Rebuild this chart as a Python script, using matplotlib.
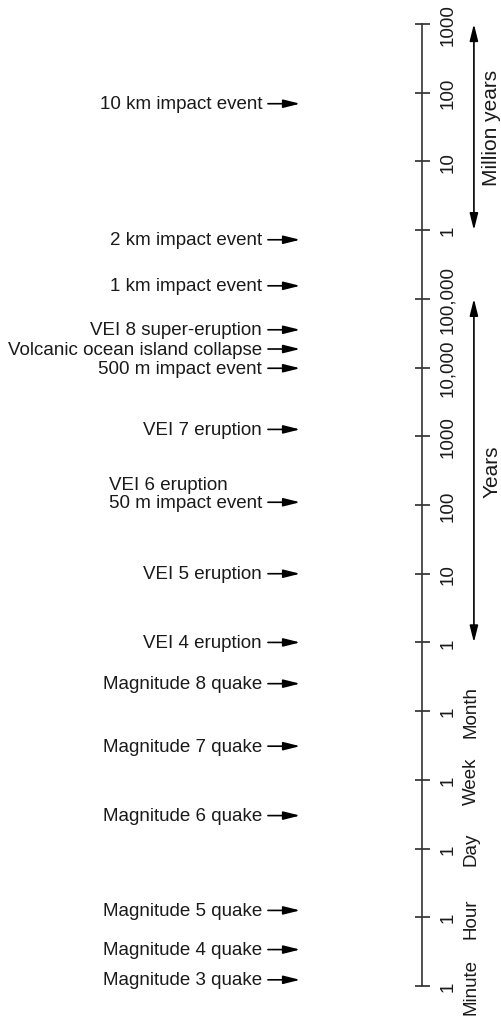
import matplotlib.pyplot as plt

plt.rcParams['font.family'] = ['Liberation Sans', 'DejaVu Sans']

# scale positions: log10 of the repeat time in years,
# below one year the scale just steps month / week / day / hour / minute
tick_pos = [9, 8, 7, 6, 5, 4, 3, 2, 1, 0, -1, -2, -3, -4, -5]
tick_labels = ["1000", "100", "10", "1", "100,000", "10,000", "1000",
               "100", "10", "1", "1", "1", "1", "1", "1"]

unit_labels = ["Month", "Week", "Day", "Hour", "Minute"]
unit_pos = [-1, -2, -3, -4, -5]

range_labels = ["Million years", "Years"]
range_start = [9, 5]
range_end = [6, 0]

event_labels = [
    "10 km impact event",
    "2 km impact event",
    "1 km impact event",
    "VEI 8 super-eruption",
    "Volcanic ocean island collapse",
    "500 m impact event",
    "VEI 7 eruption",
    "VEI 6 eruption\n50 m impact event",
    "VEI 5 eruption",
    "VEI 4 eruption",
    "Magnitude 8 quake",
    "Magnitude 7 quake",
    "Magnitude 6 quake",
    "Magnitude 5 quake",
    "Magnitude 4 quake",
    "Magnitude 3 quake",
]
event_pos = [7.84, 5.86, 5.19, 4.55, 4.27, 3.99, 3.10, 2.04, 1.0, 0.0,
             -0.60, -1.51, -2.52, -3.90, -4.47, -4.91]

cor = "#1a1a1a"

fig = plt.figure(figsize=(5.02, 10.2), dpi=100)
# the right spine of this axes is the time line
ax = fig.add_axes([0, 33 / 1020, 422 / 502, 962 / 1020])
ax.set_ylim(-5, 9)
ax.set_xlim(0, 1)
for lado in ["left", "top", "bottom"]:
    ax.spines[lado].set_visible(False)
ax.spines["right"].set_linewidth(1.2)
ax.spines["right"].set_color("#333333")
ax.set_xticks([])
ax.yaxis.tick_right()
ax.set_yticks(tick_pos, tick_labels, rotation=90, va="center")
ax.tick_params(axis="y", direction="inout", length=10.8, width=1.1,
               pad=7, labelsize=13.5, colors=cor)

# x in axes fraction, y in scale units
trans = ax.get_yaxis_transform()

# events with their arrows
for label, pos in zip(event_labels, event_pos):
    if "\n" in label:
        ax.annotate(label, xy=(0.621, pos), xycoords=trans,
                    xytext=(0, -6.5), textcoords="offset points",
                    ha="right", va="bottom", multialignment="left",
                    linespacing=1.1, fontsize=13.5, color=cor)
    else:
        ax.text(0.621, pos, label, transform=trans, ha="right", va="center",
                fontsize=13.5, color=cor)
    ax.annotate("", xy=(0.711, pos), xycoords=trans,
                xytext=(0.635, pos), textcoords=trans,
                arrowprops=dict(arrowstyle="-|>,head_length=1.0,head_width=0.25",
                                mutation_scale=10, lw=1.2, color="k",
                                shrinkA=0, shrinkB=0))

# month, week... next to the ticks
for label, pos in zip(unit_labels, unit_pos):
    ax.text(1.117, pos, label, transform=trans, rotation=90, ha="center",
            va="center", fontsize=13.5, color=cor, clip_on=False)

# double arrows for million years and years
for label, ini, fim in zip(range_labels, range_start, range_end):
    ax.annotate("", xy=(1.123, fim), xycoords=trans,
                xytext=(1.123, ini), textcoords=trans,
                arrowprops=dict(arrowstyle="<|-|>,head_length=1.0,head_width=0.25",
                                mutation_scale=10, lw=1.2, color="k",
                                shrinkA=0, shrinkB=0))
    ax.text(1.165, (ini + fim) / 2, label, transform=trans, rotation=90,
            ha="center", va="center", fontsize=15, color=cor, clip_on=False)

fig.savefig("out.png", dpi=100)
